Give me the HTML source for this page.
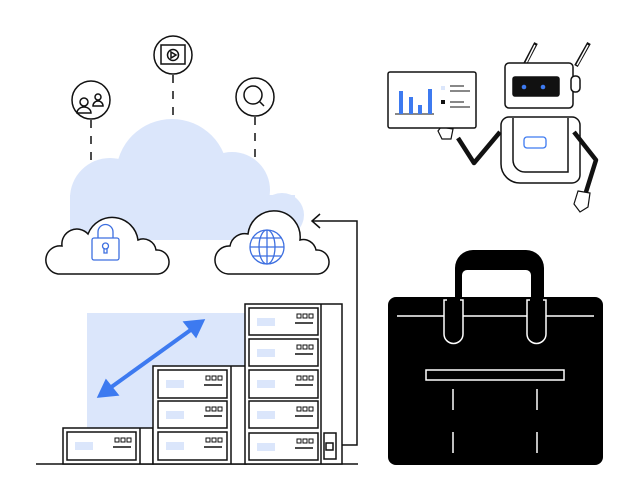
<!DOCTYPE html>
<html><head><meta charset="utf-8"><style>html,body{margin:0;padding:0;background:#fff}svg{display:block}</style></head>
<body>
<svg width="639" height="500" viewBox="0 0 639 500" xmlns="http://www.w3.org/2000/svg" fill="none" stroke="#111" stroke-width="1.5">
<!-- big cloud -->
<g fill="#dbe6fb" stroke="none">
<circle cx="172" cy="175" r="56"/>
<circle cx="110" cy="198" r="40"/>
<circle cx="232" cy="190" r="38"/>
<circle cx="282" cy="215" r="22"/>
<rect x="70" y="195" width="225" height="45"/>
</g>
<!-- dashed connectors -->
<g stroke-dasharray="8,8">
<line x1="91" y1="120" x2="91" y2="165"/>
<line x1="173" y1="75" x2="173" y2="118"/>
<line x1="255" y1="117" x2="255" y2="160"/>
</g>
<!-- icons -->
<circle cx="91" cy="100" r="19" fill="#fff"/>
<circle cx="84" cy="102" r="4"/><path d="M77 113 a7 6 0 0 1 14 0 z"/>
<circle cx="98" cy="97" r="3"/><path d="M93 106 a5 5 0 0 1 10 0 z"/>
<circle cx="173" cy="55" r="19" fill="#fff"/>
<rect x="161" y="45" width="24" height="19"/>
<circle cx="173" cy="55" r="5.5"/><path d="M171 52 l5 3 l-5 3 z"/>
<circle cx="255" cy="97" r="19" fill="#fff"/>
<circle cx="253" cy="95" r="9"/><line x1="259" y1="101" x2="264" y2="106"/>
<!-- small clouds -->
<path d="M58 274 H158 a12 12 0 0 0 -2 -24 a13 13 0 0 0 -18 -10 a26 26 0 0 0 -50 -6 a15 15 0 0 0 -26 12 a12 12 0 0 0 -4 28 z" fill="#fff"/>
<path d="M228 274 H318 a12 12 0 0 0 -2 -24 a13 13 0 0 0 -16 -10 a26 26 0 0 0 -52 -6 a15 15 0 0 0 -18 12 a12 12 0 0 0 -2 28 z" fill="#fff"/>
<!-- lock -->
<g stroke="#3d6fe0" stroke-width="1.3">
<rect x="92" y="238" width="27" height="22" rx="2"/>
<path d="M98 238 v-6 a7 7 0 0 1 15 0 v6"/>
<circle cx="105.5" cy="246" r="3"/><path d="M104 248 v5 h3 v-5"/>
<!-- globe -->
<circle cx="267" cy="247" r="17"/><ellipse cx="267" cy="247" rx="8" ry="17"/>
<line x1="267" y1="230" x2="267" y2="264"/><line x1="250" y1="247" x2="284" y2="247"/>
<line x1="253" y1="238" x2="281" y2="238"/><line x1="253" y1="256" x2="281" y2="256"/>
</g>
<!-- arrow connector -->
<path d="M329 445 H357 V221 H312"/><path d="M320 214 L312 221 L320 228"/>
<!-- blue area & arrow -->
<rect x="87" y="313" width="160" height="115" fill="#dbe6fb" stroke="none"/>
<line x1="110" y1="388" x2="192" y2="329" stroke="#3d7af0" stroke-width="4"/>
<path d="M98 397 L118 395 L106 380 z M204 320 L184 322 L196 337 z" fill="#3d7af0" stroke="#3d7af0"/>
<!-- ground -->
<line x1="36" y1="464" x2="358" y2="464"/>
<!-- racks -->
<g fill="#fff">
<rect x="63" y="428" width="90" height="36"/><line x1="140" y1="428" x2="140" y2="464"/>
<rect x="153" y="366" width="93" height="98"/><line x1="231" y1="366" x2="231" y2="464"/>
<rect x="245" y="304" width="97" height="160"/><line x1="321" y1="304" x2="321" y2="464"/>
<rect x="324" y="433" width="12" height="26"/><rect x="326" y="443" width="7" height="7"/>
</g>
<g>
<g transform="translate(67,432)"><rect width="69" height="28" fill="#fff"/><rect x="8" y="10" width="18" height="8" fill="#dbe6fb" stroke="none"/><line x1="46" y1="15" x2="64" y2="15"/><rect x="48" y="6" width="4" height="4" stroke-width="1"/><rect x="54" y="6" width="4" height="4" stroke-width="1"/><rect x="60" y="6" width="4" height="4" stroke-width="1"/></g>
<g transform="translate(158,370)"><rect width="69" height="28" fill="#fff"/><rect x="8" y="10" width="18" height="8" fill="#dbe6fb" stroke="none"/><line x1="46" y1="15" x2="64" y2="15"/><rect x="48" y="6" width="4" height="4" stroke-width="1"/><rect x="54" y="6" width="4" height="4" stroke-width="1"/><rect x="60" y="6" width="4" height="4" stroke-width="1"/></g>
<g transform="translate(158,401)"><rect width="69" height="27" fill="#fff"/><rect x="8" y="10" width="18" height="8" fill="#dbe6fb" stroke="none"/><line x1="46" y1="15" x2="64" y2="15"/><rect x="48" y="6" width="4" height="4" stroke-width="1"/><rect x="54" y="6" width="4" height="4" stroke-width="1"/><rect x="60" y="6" width="4" height="4" stroke-width="1"/></g>
<g transform="translate(158,432)"><rect width="69" height="28" fill="#fff"/><rect x="8" y="10" width="18" height="8" fill="#dbe6fb" stroke="none"/><line x1="46" y1="15" x2="64" y2="15"/><rect x="48" y="6" width="4" height="4" stroke-width="1"/><rect x="54" y="6" width="4" height="4" stroke-width="1"/><rect x="60" y="6" width="4" height="4" stroke-width="1"/></g>
<g transform="translate(249,308)"><rect width="69" height="27" fill="#fff"/><rect x="8" y="10" width="18" height="8" fill="#dbe6fb" stroke="none"/><line x1="46" y1="15" x2="64" y2="15"/><rect x="48" y="6" width="4" height="4" stroke-width="1"/><rect x="54" y="6" width="4" height="4" stroke-width="1"/><rect x="60" y="6" width="4" height="4" stroke-width="1"/></g>
<g transform="translate(249,339)"><rect width="69" height="27" fill="#fff"/><rect x="8" y="10" width="18" height="8" fill="#dbe6fb" stroke="none"/><line x1="46" y1="15" x2="64" y2="15"/><rect x="48" y="6" width="4" height="4" stroke-width="1"/><rect x="54" y="6" width="4" height="4" stroke-width="1"/><rect x="60" y="6" width="4" height="4" stroke-width="1"/></g>
<g transform="translate(249,370)"><rect width="69" height="28" fill="#fff"/><rect x="8" y="10" width="18" height="8" fill="#dbe6fb" stroke="none"/><line x1="46" y1="15" x2="64" y2="15"/><rect x="48" y="6" width="4" height="4" stroke-width="1"/><rect x="54" y="6" width="4" height="4" stroke-width="1"/><rect x="60" y="6" width="4" height="4" stroke-width="1"/></g>
<g transform="translate(249,401)"><rect width="69" height="27" fill="#fff"/><rect x="8" y="10" width="18" height="8" fill="#dbe6fb" stroke="none"/><line x1="46" y1="15" x2="64" y2="15"/><rect x="48" y="6" width="4" height="4" stroke-width="1"/><rect x="54" y="6" width="4" height="4" stroke-width="1"/><rect x="60" y="6" width="4" height="4" stroke-width="1"/></g>
<g transform="translate(249,433)"><rect width="69" height="27" fill="#fff"/><rect x="8" y="10" width="18" height="8" fill="#dbe6fb" stroke="none"/><line x1="46" y1="15" x2="64" y2="15"/><rect x="48" y="6" width="4" height="4" stroke-width="1"/><rect x="54" y="6" width="4" height="4" stroke-width="1"/><rect x="60" y="6" width="4" height="4" stroke-width="1"/></g>
</g>
<!-- robot -->
<line x1="525" y1="64" x2="536" y2="43" stroke-width="4"/><line x1="526" y1="63" x2="535" y2="45" stroke="#fff" stroke-width="1.5"/>
<line x1="576" y1="66" x2="589" y2="43" stroke-width="4"/><line x1="577" y1="65" x2="588" y2="45" stroke="#fff" stroke-width="1.5"/>
<rect x="505" y="63" width="68" height="45" rx="4" fill="#fff"/>
<rect x="571" y="76" width="9" height="16" rx="4" fill="#fff"/>
<rect x="513" y="77" width="46" height="19" rx="2" fill="#111"/>
<circle cx="524" cy="87" r="2.3" fill="#3d7af0" stroke="none"/><circle cx="543" cy="87" r="2.3" fill="#3d7af0" stroke="none"/>
<path d="M501 125 a8 8 0 0 1 8 -8 H572 a8 8 0 0 1 8 8 V175 a8 8 0 0 1 -8 8 H520 a19 19 0 0 1 -19 -19 z" fill="#fff"/>
<path d="M513 118 V160 a12 12 0 0 0 12 12 H568 V118"/>
<rect x="524" y="137" width="22" height="11" rx="3" stroke="#3d7af0" stroke-width="1.3"/>
<path d="M500 132 L474 163 L458 138" stroke-width="4.5" stroke-linejoin="round"/>
<path d="M574 132 L596 160 L586 192" stroke-width="4.5" stroke-linejoin="round"/>
<path d="M578 191 l12 2 l-2 14 l-8 5 l-6 -8 z" fill="#fff" stroke-width="1.2"/>
<path d="M441 127 l12 2 l-2 10 l-9 0 l-4 -8 z" fill="#fff" stroke-width="1.2"/>
<rect x="388" y="72" width="88" height="56" rx="2" fill="#fff"/>
<line x1="395" y1="114" x2="434" y2="114" stroke-width="1"/>
<g fill="#3d7af0" stroke="none"><rect x="399" y="91" width="4" height="23"/><rect x="409" y="97" width="4" height="17"/><rect x="418" y="105" width="4" height="9"/><rect x="428" y="89" width="4" height="25"/></g>
<rect x="441" y="86" width="4" height="4" fill="#dbe6fb" stroke="none"/><rect x="441" y="100" width="4" height="4" fill="#111" stroke="none"/>
<g stroke-width="1"><line x1="450" y1="86" x2="464" y2="86"/><line x1="450" y1="91" x2="470" y2="91"/><line x1="450" y1="102" x2="464" y2="102"/><line x1="450" y1="107" x2="470" y2="107"/></g>
<!-- bag -->
<path d="M455 297 V268 a18 18 0 0 1 18 -18 H526 a18 18 0 0 1 18 18 V297 H531 V275 a5 5 0 0 0 -5 -5 H467 a5 5 0 0 0 -5 5 V297 z" fill="#000" stroke="none"/>
<rect x="388" y="297" width="215" height="168" rx="8" fill="#000" stroke="none"/>
<g stroke="#fff" stroke-width="1.5">
<line x1="397" y1="316" x2="594" y2="316"/>
<path d="M444 300 V334 a9.5 9.5 0 0 0 19 0 V300 z" fill="#000"/>
<path d="M527 300 V334 a9.5 9.5 0 0 0 19 0 V300 z" fill="#000"/>
<rect x="426" y="370" width="138" height="10"/>
<line x1="453" y1="389" x2="453" y2="410"/><line x1="453" y1="432" x2="453" y2="453"/>
<line x1="537" y1="389" x2="537" y2="410"/><line x1="537" y1="432" x2="537" y2="453"/>
</g>
<rect x="447" y="298" width="13" height="4" fill="#000" stroke="none"/><rect x="530" y="298" width="13" height="4" fill="#000" stroke="none"/>
</svg>
</body></html>
